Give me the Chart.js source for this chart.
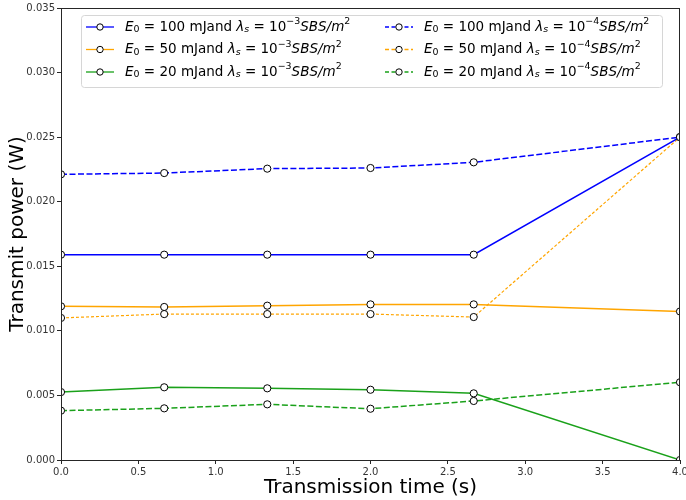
<!DOCTYPE html>
<html>
<head>
<meta charset="utf-8">
<script src="https://cdn.jsdelivr.net/npm/chart.js@4.4.0/dist/chart.umd.min.js"></script>
<style>
  html, body { margin: 0; padding: 0; background: #fff; }
  #wrap { width: 686px; height: 500px; }
</style>
</head>
<body>
<div id="wrap"><canvas id="power-chart" width="686" height="500"></canvas></div>
<script>
// Transmit power vs transmission time, two densities x three energies.
const xValues = [0, 0.667, 1.333, 2.0, 2.667, 4.0];
const xTicks = [0, 0.5, 1.0, 1.5, 2.0, 2.5, 3.0, 3.5, 4.0];
const yTicks = [0, 0.005, 0.010, 0.015, 0.020, 0.025, 0.030, 0.035];

const energies = ['100', '50', '20'];
const exponents = ['\u22123', '\u22124'];

// lambda_s = 1e-3
const p100a = [0.0159, 0.0159, 0.0159, 0.0159, 0.0159, 0.0250];
const p50a  = [0.0119, 0.01185, 0.01195, 0.01205, 0.01205, 0.0115];
const p20a  = [0.00526, 0.00563, 0.00555, 0.00544, 0.00516, 0.0];
// lambda_s = 1e-4
const p100b = [0.02212, 0.02222, 0.02256, 0.02261, 0.02305, 0.0250];
const p50b  = [0.0110, 0.0113, 0.0113, 0.0113, 0.01107, 0.0250];
const p20b  = [0.00382, 0.0040, 0.00431, 0.00397, 0.00457, 0.00602];

const blue = '#0000ff';
const orange = '#ffa500';
const green = '#1aa11a';

function pts(ys) {
    return ys.map(function(y, i) { return { x: xValues[i], y: y }; });
}

function series(ei, xi, ys, color, dash, width) {
    return {
        label: 'E\u2080 = ' + energies[ei] + ' mJand \u03bb\u209b = 10' +
            (xi === 0 ? '\u207b\u00b3' : '\u207b\u2074') + 'SBS/m\u00b2',
        energy: energies[ei],
        exponent: exponents[xi],
        data: pts(ys),
        borderColor: color,
        borderWidth: width,
        borderDash: dash,
        backgroundColor: color,
        pointRadius: 3.6,
        pointBorderWidth: 1,
        pointBorderColor: '#000',
        pointBackgroundColor: '#fff',
        tension: 0,
        fill: false,
    };
}

// row-major order so the two legend columns come out like the original
const datasets = [
    series(0, 0, p100a, blue, [], 1.5),
    series(0, 1, p100b, blue, [6, 2.5], 1.5),
    series(1, 0, p50a, orange, [], 1.5),
    series(1, 1, p50b, orange, [3, 2], 1.2),
    series(2, 0, p20a, green, [], 1.5),
    series(2, 1, p20b, green, [6, 2.5], 1.5),
];

const FONT = "'DejaVu Sans', sans-serif";

// draw a mathtext-like label: italics, subscripts, superscripts
function drawRich(ctx, x, y, parts, size) {
    parts.forEach(function(p) {
        const small = p.pos === 'sub' || p.pos === 'sup';
        const s = small ? size * 0.7 : size;
        ctx.font = (p.it ? 'italic ' : '') + s + 'px ' + FONT;
        let dy = 0;
        if (p.pos === 'sub') dy = size * 0.22;
        if (p.pos === 'sup') dy = -size * 0.38;
        ctx.fillText(p.t, x, y + dy);
        x += ctx.measureText(p.t).width;
    });
}

const frameAndLegend = {
    id: 'frameAndLegend',
    afterDraw: function(chart) {
        const ctx = chart.ctx;
        const a = chart.chartArea;
        ctx.save();
        ctx.strokeStyle = '#262626';
        ctx.lineWidth = 1;
        ctx.strokeRect(a.left + 0.5, a.top + 0.5, a.right - a.left - 1, a.bottom - a.top);

        // legend box
        const bx = 81.5, by = 15.5, bw = 581, bh = 72, r = 3;
        ctx.beginPath();
        ctx.moveTo(bx + r, by);
        ctx.arcTo(bx + bw, by, bx + bw, by + bh, r);
        ctx.arcTo(bx + bw, by + bh, bx, by + bh, r);
        ctx.arcTo(bx, by + bh, bx, by, r);
        ctx.arcTo(bx, by, bx + bw, by, r);
        ctx.closePath();
        ctx.fillStyle = 'rgba(255,255,255,0.8)';
        ctx.fill();
        ctx.strokeStyle = '#d6d6d6';
        ctx.stroke();

        const colX = [86, 385];
        const rowY = [27, 49.5, 72];
        chart.data.datasets.forEach(function(ds, i) {
            const cx = colX[i % 2], cy = rowY[Math.floor(i / 2)];
            ctx.strokeStyle = ds.borderColor;
            ctx.lineWidth = 1.3;
            ctx.setLineDash(ds.borderDash.length ? [4, 2.5] : []);
            ctx.beginPath();
            ctx.moveTo(cx, cy);
            ctx.lineTo(cx + 28, cy);
            ctx.stroke();
            ctx.setLineDash([]);
            ctx.beginPath();
            ctx.arc(cx + 14, cy, 3.2, 0, Math.PI * 2);
            ctx.fillStyle = '#fff';
            ctx.fill();
            ctx.strokeStyle = '#000';
            ctx.lineWidth = 1;
            ctx.stroke();

            ctx.fillStyle = '#000';
            ctx.textBaseline = 'middle';
            ctx.textAlign = 'left';
            drawRich(ctx, cx + 39, cy, [
                { t: 'E', it: true },
                { t: '0', pos: 'sub' },
                { t: ' = ' + ds.energy + ' mJand ' },
                { t: '\u03bb', it: true },
                { t: 's', it: true, pos: 'sub' },
                { t: ' = 10' },
                { t: ds.exponent, pos: 'sup' },
                { t: 'SBS/m', it: true },
                { t: '2', pos: 'sup' },
            ], 13.5);
        });
        ctx.restore();
    }
};

new Chart(document.getElementById('power-chart'), {
    type: 'line',
    data: { datasets: datasets },
    options: {
        responsive: false,
        animation: false,
        layout: { padding: { left: 0, right: 6, top: 8, bottom: 0 } },
        plugins: {
            legend: { display: false },
            tooltip: { enabled: false },
        },
        scales: {
            x: {
                type: 'linear',
                min: 0,
                max: 4,
                afterBuildTicks: function(scale) {
                    scale.ticks = xTicks.map(function(v) { return { value: v }; });
                },
                afterFit: function(scale) {
                    scale.height = 40;
                    scale.paddingLeft = 0;
                    scale.paddingRight = 0;
                },
                grid: { display: true, drawOnChartArea: false, drawTicks: true, tickLength: 4, color: '#262626' },
                border: { display: true, color: '#262626' },
                ticks: {
                    padding: 2,
                    color: '#333',
                    font: { family: FONT, size: 10 },
                    maxRotation: 0,
                    callback: function(v) { return Number(v).toFixed(1); }
                },
                title: {
                    display: true,
                    text: 'Transmission time (s)',
                    color: '#000',
                    font: { family: FONT, size: 20, lineHeight: 1.2 },
                    padding: { top: 1, bottom: 0 }
                }
            },
            y: {
                type: 'linear',
                min: 0,
                max: 0.035,
                afterBuildTicks: function(scale) {
                    scale.ticks = yTicks.map(function(v) { return { value: v }; });
                },
                afterFit: function(scale) {
                    scale.width = 61;
                    scale.paddingTop = 0;
                    scale.paddingBottom = 0;
                },
                grid: { display: true, drawOnChartArea: false, drawTicks: true, tickLength: 4, color: '#262626' },
                border: { display: true, color: '#262626' },
                ticks: {
                    padding: 2,
                    color: '#333',
                    font: { family: FONT, size: 10 },
                    callback: function(v) { return Number(v).toFixed(3); }
                },
                title: {
                    display: true,
                    text: 'Transmit power (W)',
                    color: '#000',
                    font: { family: FONT, size: 20, lineHeight: 1.2 },
                    padding: { top: 6, bottom: 0 }
                }
            }
        }
    },
    plugins: [frameAndLegend]
});
</script>
</body>
</html>
